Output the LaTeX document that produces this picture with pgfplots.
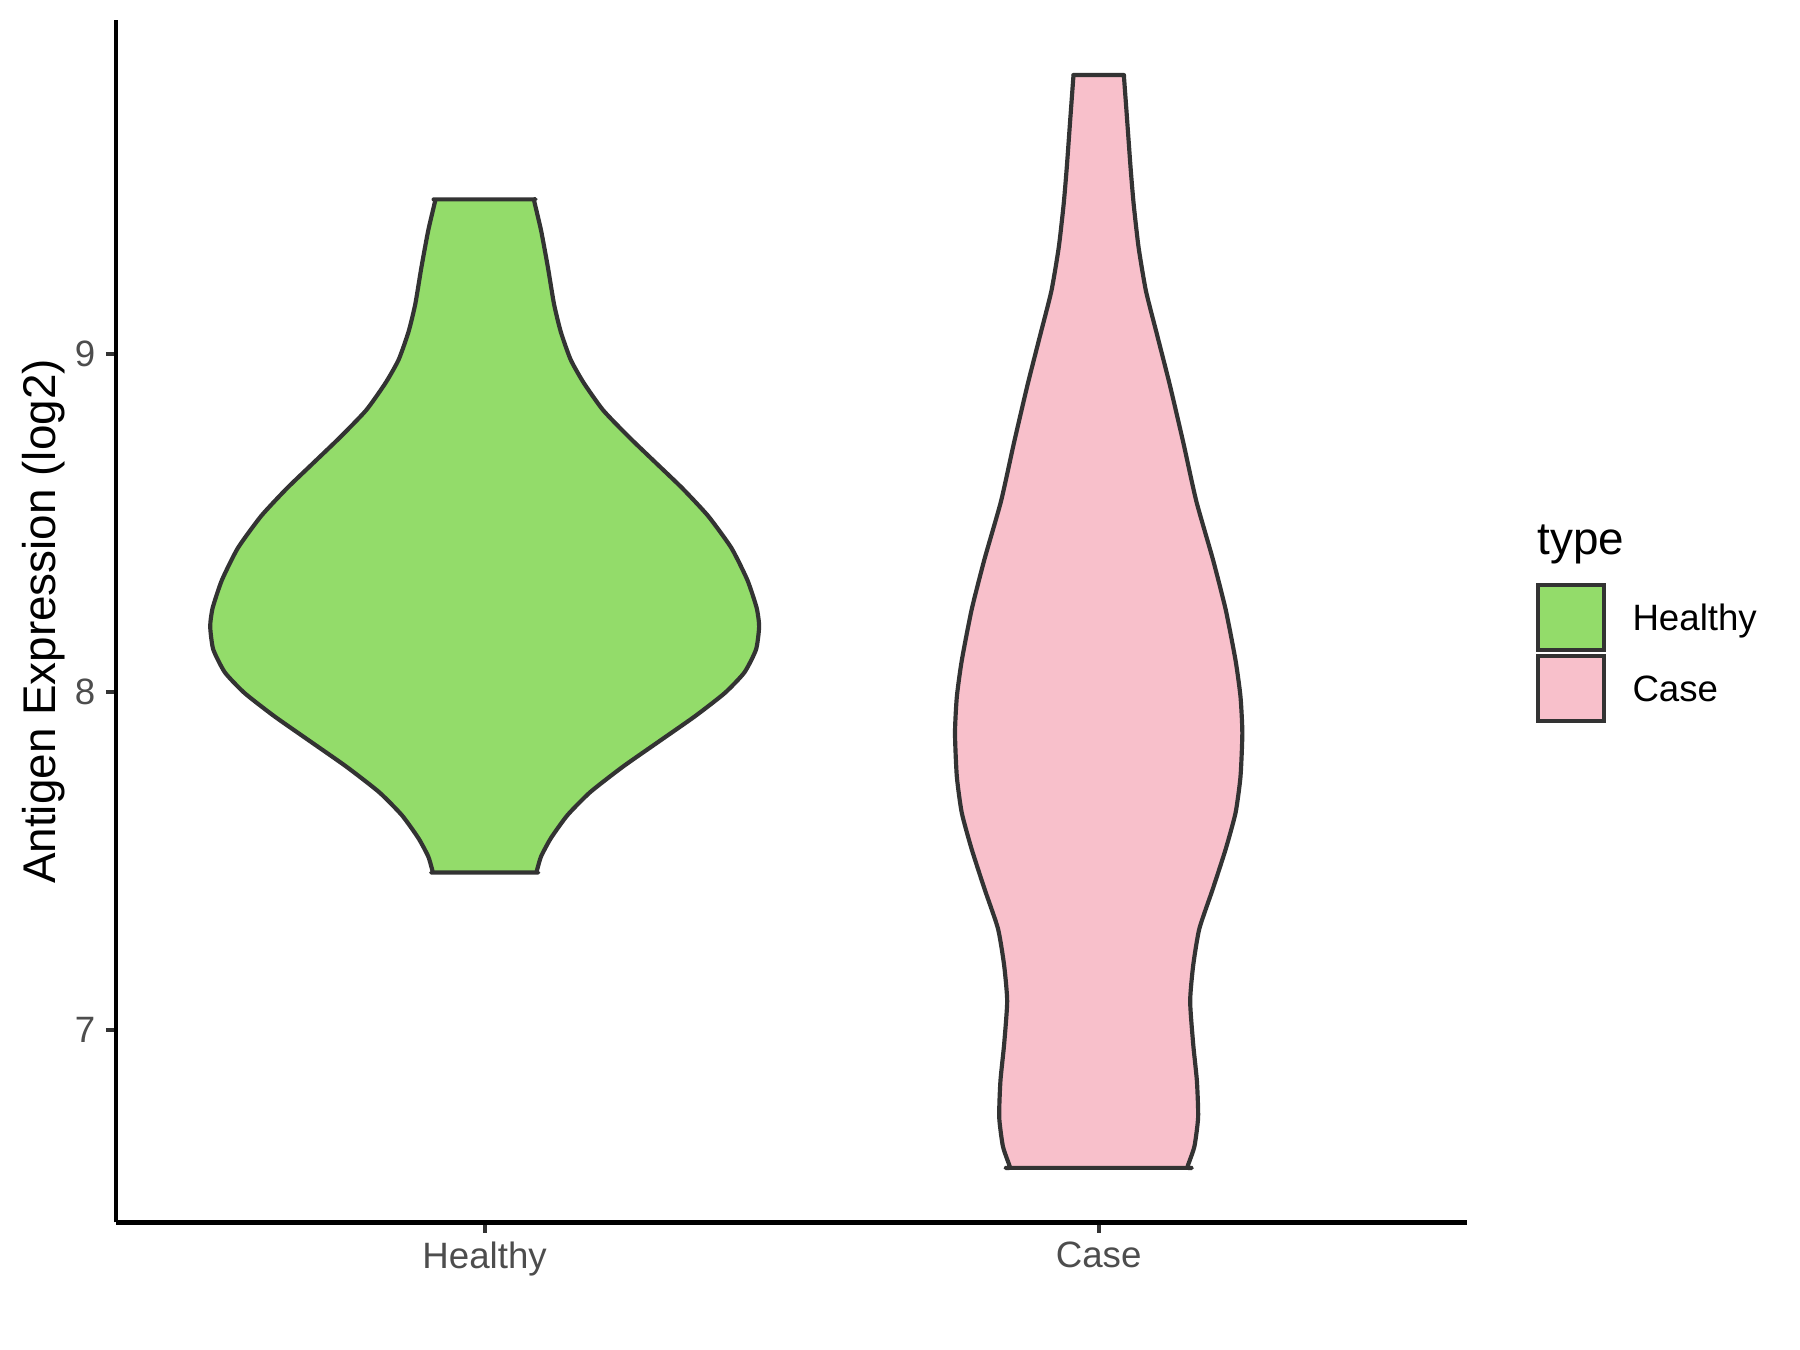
\documentclass[border=0pt]{standalone}
\usepackage{pgfplots}
\pgfplotsset{compat=1.18}
\usepackage{fontspec}
\setmainfont{Liberation Sans}
\definecolor{hgreen}{HTML}{93DC6A}
\definecolor{cpink}{HTML}{F8C0CB}
\definecolor{outl}{HTML}{333333}
\definecolor{tickgrey}{HTML}{4D4D4D}
\begin{document}
\begin{tikzpicture}
\useasboundingbox (0,0) rectangle (432pt,324pt);
\begin{axis}[
  at={(27.9pt,30.6pt)}, anchor=south west,
  scale only axis, width=324.2pt, height=288.5pt,
  xmin=0.4, xmax=2.6, ymin=6.4293, ymax=9.9867,
  axis x line*=bottom, axis y line*=left,
  axis line style={black, line width=1.07pt},
  xtick={1,2}, xticklabels={Healthy,Case},
  ytick={7,8,9},
  tick align=outside,
  major tick length=2.5pt,
  tick style={outl, line width=1.0pt},
  ticklabel style={font=\fontsize{8.8}{10}\selectfont, text=tickgrey},
  xticklabel style={yshift=1.4pt},
  yticklabel style={xshift=1.0pt},
  /pgf/number format/assume math mode=true,
  ylabel={Antigen Expression (log2)},
  every axis y label/.style={at={(rel axis cs:0,0.5)}, xshift=-17.5pt, rotate=90, anchor=center, font=\fontsize{11}{13}\selectfont},
  clip=false,
]
% Healthy violin
\addplot[fill=hgreen, draw=outl, line width=1.0pt, line join=round, smooth, tension=0.35] coordinates {
(0.920,9.457) (0.925,9.457) (1.075,9.457) (1.080,9.457) (1.0813,9.447)
(1.092,9.364) (1.103,9.256) (1.113,9.147) (1.124,9.065) (1.140,8.983) (1.161,8.915) (1.193,8.833) (1.236,8.752) (1.279,8.677) (1.322,8.602) (1.364,8.520) (1.402,8.425) (1.428,8.330) (1.443,8.248) (1.447,8.193) (1.442,8.125) (1.423,8.057) (1.391,7.996) (1.343,7.928) (1.284,7.853) (1.225,7.778) (1.172,7.703) (1.135,7.635) (1.108,7.567) (1.092,7.513)
(1.0857,7.475) (1.084,7.465) (1.079,7.465) (0.921,7.465) (0.916,7.465) (0.9143,7.475)
(0.908,7.513) (0.892,7.567) (0.865,7.635) (0.828,7.703) (0.775,7.778) (0.716,7.853) (0.657,7.928) (0.609,7.996) (0.577,8.057) (0.558,8.125) (0.553,8.193) (0.557,8.248) (0.572,8.330) (0.598,8.425) (0.636,8.520) (0.678,8.602) (0.721,8.677) (0.764,8.752) (0.807,8.833) (0.839,8.915) (0.860,8.983) (0.876,9.065) (0.887,9.147) (0.897,9.256) (0.908,9.364)
(0.9187,9.447) (0.920,9.457)
};
% Case violin
\addplot[fill=cpink, draw=outl, line width=1.0pt, line join=round, smooth, tension=0.35] coordinates {
(1.959,9.825) (1.964,9.825) (2.036,9.825) (2.041,9.825) (2.0414,9.815)
(2.046,9.701) (2.052,9.550) (2.057,9.443) (2.065,9.315) (2.077,9.186) (2.095,9.057) (2.116,8.907) (2.138,8.736) (2.159,8.564) (2.186,8.392) (2.207,8.242) (2.223,8.092) (2.231,7.985) (2.234,7.878) (2.231,7.749) (2.223,7.642) (2.207,7.535) (2.186,7.417) (2.164,7.299) (2.154,7.191) (2.149,7.084) (2.154,6.956) (2.160,6.848) (2.162,6.741) (2.156,6.655)
(2.1457,6.600) (2.144,6.591) (2.139,6.591) (1.861,6.591) (1.856,6.591) (1.8543,6.600)
(1.844,6.655) (1.838,6.741) (1.840,6.848) (1.846,6.956) (1.851,7.084) (1.846,7.191) (1.836,7.299) (1.814,7.417) (1.793,7.535) (1.777,7.642) (1.769,7.749) (1.766,7.878) (1.769,7.985) (1.777,8.092) (1.793,8.242) (1.814,8.392) (1.841,8.564) (1.862,8.736) (1.884,8.907) (1.905,9.057) (1.923,9.186) (1.935,9.315) (1.943,9.443) (1.948,9.550) (1.954,9.701)
(1.9586,9.815) (1.959,9.825)
};
\end{axis}
% legend
\node[anchor=base west, inner sep=0, font=\fontsize{11}{13}\selectfont] at (368.8pt,190.8pt) {type};
\filldraw[fill=hgreen, draw=outl, line width=1.0pt] (369.2pt,168.0pt) rectangle (385.0pt,183.6pt);
\filldraw[fill=cpink, draw=outl, line width=1.0pt] (369.2pt,151.0pt) rectangle (385.0pt,166.6pt);
\node[anchor=base west, inner sep=0, font=\fontsize{8.8}{10}\selectfont] at (391.6pt,172.6pt) {Healthy};
\node[anchor=base west, inner sep=0, font=\fontsize{8.8}{10}\selectfont] at (391.6pt,155.6pt) {Case};
\end{tikzpicture}
\end{document}
